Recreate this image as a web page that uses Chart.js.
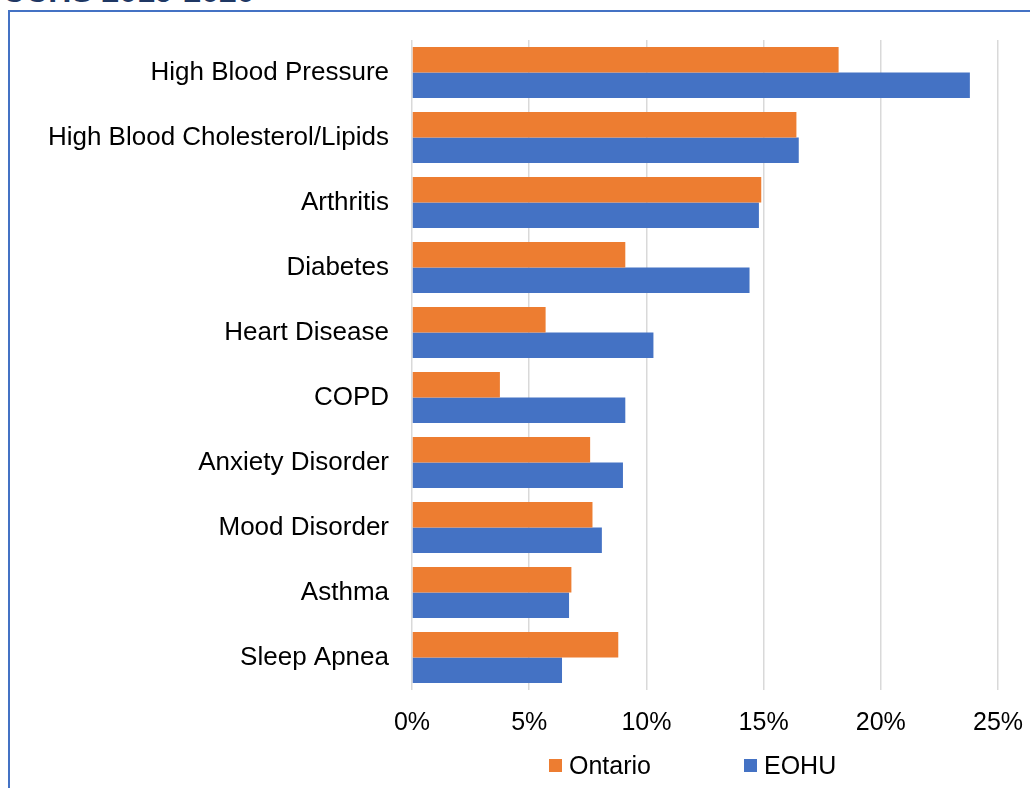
<!DOCTYPE html>
<html>
<head>
    <title>Chronic Conditions - CCHS 2019-2020</title>
    <script src="https://cdn.jsdelivr.net/npm/chart.js"></script>
    <style>
        body {
            margin: 0;
            width: 1030px;
            height: 788px;
            overflow: hidden;
            background: white;
            font-family: "Liberation Sans", Arial, sans-serif;
            position: relative;
        }
        .title {
            position: absolute;
            left: 2px;
            top: -25px;
            font-size: 32px;
            line-height: 32px;
            font-weight: bold;
            color: #1F3864;
            white-space: nowrap;
        }
        .frame {
            position: absolute;
            left: 8px;
            top: 10px;
            width: 1030px;
            height: 800px;
            border-left: 2px solid #4472C4;
            border-top: 2px solid #4472C4;
        }
        .chart-box {
            position: absolute;
            left: 0;
            top: 0;
            width: 1030px;
            height: 788px;
        }
    </style>
</head>
<body>
    <div class="title">CCHS 2019-2020</div>
    <div class="frame"></div>
    <div class="chart-box">
        <canvas id="conditionsChart"></canvas>
    </div>

    <script>
        const categories = ['High Blood Pressure', 'High Blood Cholesterol/Lipids', 'Arthritis', 'Diabetes',
            'Heart Disease', 'COPD', 'Anxiety Disorder', 'Mood Disorder', 'Asthma', 'Sleep Apnea'];
        const ontario = [18.2, 16.4, 14.9, 9.1, 5.7, 3.75, 7.6, 7.7, 6.8, 8.8];
        const eohu = [23.8, 16.5, 14.8, 14.4, 10.3, 9.1, 9.0, 8.1, 6.7, 6.4];
        const xTicks = [0, 5, 10, 15, 20, 25];

        const ORANGE = '#ED7D31';
        const BLUE = '#4472C4';
        const FONT = '"Liberation Sans", Arial, sans-serif';

        // legend drawn by hand so the items can sit far apart like the original
        const wideLegend = {
            id: 'wideLegend',
            afterDraw(chart) {
                const ctx = chart.ctx;
                const xs = [549, 744];
                const y = 766;
                ctx.save();
                ctx.font = '25px ' + FONT;
                ctx.textBaseline = 'middle';
                ctx.textAlign = 'left';
                chart.data.datasets.forEach((ds, i) => {
                    ctx.fillStyle = ds.backgroundColor;
                    ctx.fillRect(xs[i], y - 7, 13, 13);
                    ctx.fillStyle = '#000';
                    ctx.fillText(ds.label, xs[i] + 20, y + 1);
                });
                ctx.restore();
            }
        };

        new Chart(document.getElementById('conditionsChart'), {
            type: 'bar',
            data: {
                labels: categories,
                datasets: [
                    { label: 'Ontario', data: ontario, backgroundColor: ORANGE },
                    { label: 'EOHU', data: eohu, backgroundColor: BLUE }
                ]
            },
            options: {
                indexAxis: 'y',
                responsive: true,
                maintainAspectRatio: false,
                animation: false,
                layout: { padding: { top: 40, right: 32, bottom: 48, left: 0 } },
                datasets: { bar: { categoryPercentage: 0.785, barPercentage: 1.0 } },
                plugins: {
                    legend: { display: false },
                    tooltip: { enabled: false }
                },
                scales: {
                    x: {
                        min: 0,
                        max: 25,
                        afterBuildTicks(axis) {
                            axis.ticks = xTicks.map(v => ({ value: v }));
                        },
                        afterFit(axis) {
                            axis.height = 50;
                            axis.paddingLeft = 0;
                            axis.paddingRight = 0;
                        },
                        grid: { color: '#D9D9D9', lineWidth: 1.5, drawTicks: false },
                        border: { display: false },
                        ticks: {
                            padding: 18,
                            color: '#000',
                            font: { family: FONT, size: 25 },
                            callback: v => v + '%'
                        }
                    },
                    y: {
                        afterFit(axis) { axis.width = 412; },
                        grid: { display: false, drawTicks: false },
                        border: { display: false },
                        ticks: {
                            padding: 23,
                            color: '#000',
                            font: { family: FONT, size: 26 }
                        }
                    }
                }
            },
            plugins: [wideLegend]
        });
    </script>
</body>
</html>
